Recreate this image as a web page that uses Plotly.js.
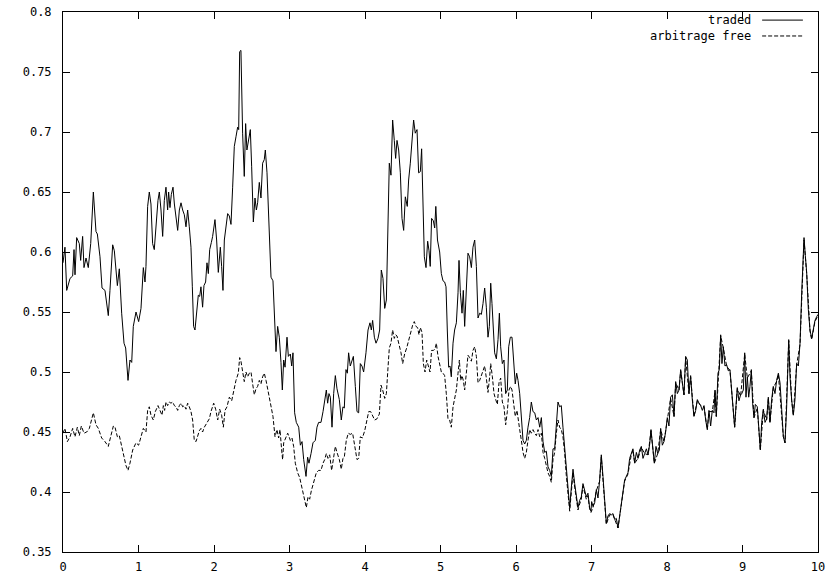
<!DOCTYPE html>
<html>
<head>
<meta charset="utf-8">
<script src="https://cdn.plot.ly/plotly-3.0.1.min.js"></script>
<style>html,body{margin:0;padding:0;background:#fff;}</style>
</head>
<body>
<div id="chart" style="width:829px;height:582px;"></div>
<script>
const seriesNames = ["traded", "arbitrage free"];

const tradedX = [0,0.026,0.049,0.093,0.128,0.146,0.159,0.181,0.216,0.234,0.26,0.278,0.305,0.335,0.367,0.402,0.437,0.455,0.49,0.517,0.556,0.6,0.622,0.658,0.68,0.702,0.72,0.746,0.777,0.808,0.83,0.861,0.887,0.91,0.931,0.967,
1.002,1.033,1.064,1.086,1.099,1.121,1.143,1.165,1.187,1.209,1.231,1.258,1.276,1.298,1.32,1.342,1.364,1.386,1.399,1.417,1.435,1.457,1.475,1.497,1.519,1.541,1.563,1.585,1.607,1.629,1.651,1.673,1.695,1.713,1.73,1.748,1.77,1.792,1.81,1.827,1.849,1.867,1.889,1.907,1.925,1.943,1.965,
1.982,2.013,2.035,2.057,2.084,2.101,2.119,2.137,2.159,2.181,2.203,2.225,2.247,2.269,2.291,2.313,2.327,2.34,2.357,2.379,2.401,2.419,2.436,2.454,2.481,2.499,2.521,2.543,2.561,2.578,2.6,2.622,2.644,2.666,2.68,2.702,2.733,2.755,2.781,2.799,2.821,2.843,2.865,2.887,2.905,2.923,2.941,2.967,2.985,
3.011,3.029,3.046,3.068,3.09,3.122,3.144,3.166,3.188,3.219,3.24,3.258,3.285,3.311,3.342,3.364,3.386,3.417,3.444,3.466,3.488,3.505,3.523,3.541,3.563,3.585,3.607,3.629,3.66,3.686,3.708,3.726,3.748,3.766,3.783,3.805,3.827,3.846,3.872,3.894,3.916,3.938,3.96,3.982,
4.013,4.04,4.066,4.084,4.101,4.124,4.146,4.172,4.194,4.216,4.238,4.261,4.283,4.305,4.322,4.344,4.366,4.388,4.406,4.424,4.446,4.468,4.49,4.512,4.534,4.56,4.578,4.6,4.622,4.644,4.666,4.689,4.71,4.733,4.75,4.768,4.786,4.808,4.83,4.848,4.864,4.882,4.905,4.923,4.938,4.96,
4.989,5.011,5.033,5.055,5.073,5.09,5.108,5.126,5.143,5.166,5.187,5.21,5.232,5.245,5.263,5.285,5.302,5.32,5.342,5.364,5.386,5.409,5.43,5.453,5.475,5.497,5.519,5.541,5.563,5.585,5.607,5.629,5.647,5.665,5.682,5.7,5.717,5.74,5.762,5.78,5.797,5.819,5.841,5.863,5.885,5.903,5.925,5.947,5.969,5.99,6.009,
6.027,6.049,6.071,6.093,6.115,6.137,6.159,6.181,6.203,6.225,6.248,6.27,6.292,6.314,6.336,6.358,6.38,6.402,6.424,6.446,6.468,6.49,6.512,6.534,6.556,6.578,6.6,6.622,6.644,6.666,6.689,6.711,6.733,6.755,6.777,6.799,6.821,6.843,6.865,6.887,6.909,6.931,6.953,6.975,6.993,
7.002,7.02,7.042,7.064,7.086,7.108,7.13,7.152,7.174,7.196,7.218,7.24,7.263,7.285,7.307,7.329,7.351,7.373,7.395,7.417,7.439,7.461,7.483,7.505,7.527,7.549,7.572,7.594,7.616,7.638,7.66,7.682,7.704,7.727,7.749,7.771,7.788,7.81,7.832,7.854,7.877,7.899,7.916,7.938,7.96,7.982,8.004,
8.026,8.048,8.071,8.093,8.115,8.137,8.159,8.181,8.203,8.225,8.247,8.269,8.291,8.313,8.335,8.357,8.38,8.402,8.424,8.446,8.468,8.49,8.512,8.534,8.556,8.578,8.6,8.622,8.636,8.653,8.675,8.693,8.711,8.728,8.746,8.768,8.79,8.812,8.834,8.857,8.879,8.896,8.914,8.931,8.953,8.975,
8.99,9.011,9.029,9.046,9.064,9.082,9.099,9.117,9.134,9.152,9.17,9.196,9.214,9.236,9.254,9.276,9.298,9.32,9.342,9.364,9.386,9.408,9.43,9.452,9.475,9.497,9.519,9.541,9.563,9.585,9.612,9.629,9.651,9.673,9.695,9.717,9.74,9.762,9.784,9.815,9.832,9.85,9.872,9.894,9.916,9.938,9.96,9.982,10.0];

const tradedY = [0.591,0.604,0.568,0.578,0.58,0.602,0.581,0.612,0.607,0.593,0.613,0.587,0.595,0.587,0.607,0.65,0.617,0.615,0.596,0.57,0.568,0.547,0.568,0.606,0.601,0.585,0.572,0.586,0.549,0.524,0.52,0.493,0.51,0.508,0.538,0.55,
0.542,0.553,0.587,0.575,0.588,0.638,0.65,0.64,0.607,0.602,0.621,0.643,0.65,0.635,0.613,0.643,0.654,0.635,0.65,0.637,0.648,0.654,0.64,0.629,0.618,0.635,0.641,0.635,0.631,0.621,0.635,0.621,0.604,0.571,0.538,0.535,0.549,0.564,0.563,0.571,0.554,0.572,0.575,0.591,0.582,0.602,0.608,
0.613,0.627,0.61,0.583,0.604,0.588,0.568,0.61,0.624,0.632,0.63,0.623,0.654,0.688,0.696,0.704,0.702,0.767,0.768,0.699,0.663,0.707,0.685,0.693,0.702,0.671,0.625,0.645,0.635,0.641,0.658,0.645,0.674,0.677,0.685,0.666,0.621,0.579,0.576,0.546,0.517,0.538,0.529,0.508,0.485,0.51,0.504,0.529,0.513,
0.515,0.505,0.516,0.466,0.458,0.454,0.439,0.442,0.427,0.413,0.429,0.424,0.432,0.441,0.443,0.454,0.458,0.458,0.467,0.475,0.485,0.474,0.482,0.479,0.454,0.482,0.497,0.486,0.477,0.46,0.471,0.47,0.502,0.499,0.516,0.505,0.509,0.513,0.488,0.467,0.466,0.507,0.505,0.5,
0.516,0.535,0.541,0.535,0.543,0.529,0.524,0.528,0.535,0.585,0.578,0.553,0.56,0.612,0.674,0.664,0.71,0.693,0.678,0.693,0.685,0.666,0.628,0.618,0.646,0.638,0.66,0.674,0.692,0.71,0.699,0.702,0.666,0.667,0.686,0.649,0.596,0.587,0.609,0.601,0.588,0.628,0.626,0.62,0.638,0.61,
0.6,0.582,0.576,0.575,0.571,0.535,0.504,0.505,0.496,0.524,0.535,0.541,0.566,0.593,0.566,0.549,0.568,0.538,0.566,0.599,0.596,0.587,0.604,0.61,0.588,0.545,0.549,0.548,0.557,0.57,0.554,0.529,0.538,0.574,0.557,0.529,0.516,0.511,0.527,0.549,0.521,0.507,0.51,0.482,0.485,0.521,0.529,0.529,0.507,0.49,0.499,
0.493,0.482,0.466,0.443,0.44,0.443,0.454,0.462,0.475,0.467,0.466,0.46,0.462,0.454,0.462,0.442,0.433,0.434,0.421,0.418,0.413,0.436,0.436,0.454,0.475,0.471,0.472,0.454,0.438,0.418,0.404,0.387,0.404,0.419,0.407,0.396,0.387,0.393,0.396,0.407,0.401,0.396,0.399,0.387,0.384,
0.392,0.388,0.391,0.402,0.395,0.41,0.431,0.413,0.391,0.374,0.38,0.382,0.381,0.382,0.377,0.378,0.37,0.38,0.391,0.399,0.41,0.413,0.416,0.428,0.432,0.436,0.424,0.433,0.428,0.435,0.438,0.428,0.432,0.436,0.431,0.44,0.452,0.435,0.424,0.438,0.432,0.435,0.453,0.439,0.442,0.45,0.462,
0.455,0.479,0.481,0.463,0.492,0.482,0.485,0.502,0.491,0.481,0.513,0.51,0.482,0.497,0.477,0.463,0.468,0.477,0.474,0.472,0.468,0.472,0.46,0.452,0.468,0.455,0.468,0.466,0.485,0.463,0.499,0.502,0.531,0.507,0.521,0.505,0.506,0.501,0.502,0.485,0.468,0.454,0.472,0.487,0.476,0.481,
0.482,0.485,0.516,0.479,0.496,0.479,0.488,0.502,0.474,0.462,0.473,0.471,0.455,0.435,0.458,0.469,0.458,0.461,0.479,0.458,0.477,0.488,0.482,0.493,0.499,0.491,0.469,0.446,0.441,0.471,0.527,0.496,0.477,0.464,0.477,0.507,0.505,0.524,0.566,0.612,0.597,0.583,0.552,0.535,0.528,0.535,0.543,0.546,0.548];

const arbX = [0,0.026,0.058,0.093,0.128,0.159,0.19,0.216,0.243,0.278,0.314,0.349,0.402,0.437,0.468,0.512,0.556,0.6,0.631,0.667,0.689,0.72,0.746,0.777,0.808,0.834,0.861,0.887,0.923,0.967,
1.002,1.033,1.064,1.099,1.121,1.143,1.165,1.196,1.223,1.258,1.285,1.311,1.329,1.346,1.364,1.386,1.408,1.43,1.453,1.475,1.497,1.519,1.541,1.563,1.585,1.607,1.629,1.651,1.673,1.695,1.717,1.739,1.762,1.784,1.805,1.827,1.849,1.872,1.894,1.916,1.938,1.96,
1.996,2.022,2.049,2.075,2.101,2.124,2.146,2.172,2.203,2.234,2.26,2.291,2.322,2.34,2.357,2.379,2.401,2.423,2.446,2.468,2.49,2.512,2.534,2.556,2.578,2.6,2.622,2.644,2.666,2.689,2.72,2.755,2.781,2.808,2.834,2.856,2.874,2.896,2.909,2.923,2.949,2.976,
3.0,3.011,3.033,3.055,3.077,3.108,3.135,3.166,3.197,3.223,3.245,3.267,3.289,3.32,3.355,3.386,3.417,3.444,3.466,3.488,3.51,3.532,3.558,3.585,3.607,3.629,3.66,3.686,3.708,3.726,3.752,3.779,3.805,3.836,3.863,3.894,3.916,3.938,3.965,3.996,
4.026,4.049,4.075,4.101,4.128,4.159,4.19,4.212,4.234,4.261,4.283,4.305,4.322,4.344,4.366,4.388,4.406,4.424,4.45,4.477,4.499,4.525,4.552,4.578,4.605,4.631,4.653,4.675,4.697,4.715,4.733,4.755,4.773,4.795,4.817,4.839,4.861,4.882,4.905,4.927,4.945,4.967,4.989,
5.011,5.033,5.055,5.077,5.099,5.121,5.143,5.166,5.187,5.21,5.232,5.25,5.267,5.285,5.302,5.32,5.342,5.364,5.386,5.409,5.43,5.453,5.475,5.497,5.519,5.541,5.563,5.585,5.607,5.629,5.651,5.665,5.687,5.709,5.731,5.753,5.775,5.797,5.819,5.841,5.863,5.885,5.907,5.929,5.947,5.969,5.99,6.013,
6.027,6.049,6.071,6.093,6.115,6.137,6.159,6.181,6.203,6.225,6.248,6.27,6.292,6.314,6.336,6.358,6.38,6.402,6.424,6.446,6.468,6.49,6.512,6.534,6.556,6.578,6.6,6.622,6.644,6.666,6.689,6.711,6.733,6.755,6.777,6.799,6.821,6.843,6.865,6.887,6.909,6.931,6.953,6.975,6.993,
7.02,7.064,7.108,7.13,7.152,7.196,7.24,7.285,7.351,7.395,7.439,7.483,7.527,7.549,7.572,7.616,7.66,7.704,7.749,7.788,7.832,7.877,7.916,7.96,8.004,8.048,8.093,8.115,8.159,8.181,8.225,8.247,8.291,8.313,8.357,8.402,8.446,8.49,8.534,8.556,8.6,8.636,8.653,8.711,8.746,8.79,8.834,8.896,8.931,8.975,
9.029,9.064,9.117,9.152,9.196,9.236,9.276,9.32,9.342,9.364,9.408,9.452,9.475,9.541,9.563,9.612,9.651,9.673,9.717,9.762,9.815,9.85,9.894,9.916,9.96,10.0];

const arbY = [0.449,0.453,0.442,0.446,0.453,0.446,0.454,0.447,0.455,0.449,0.45,0.453,0.466,0.456,0.453,0.445,0.442,0.438,0.446,0.455,0.454,0.446,0.447,0.438,0.429,0.422,0.418,0.424,0.435,0.441,
0.439,0.446,0.453,0.45,0.468,0.471,0.464,0.46,0.467,0.472,0.468,0.464,0.472,0.468,0.475,0.472,0.475,0.474,0.475,0.472,0.471,0.468,0.472,0.474,0.471,0.472,0.469,0.474,0.471,0.467,0.46,0.443,0.442,0.446,0.451,0.453,0.45,0.454,0.456,0.458,0.461,0.467,
0.474,0.469,0.46,0.469,0.464,0.454,0.468,0.471,0.479,0.476,0.485,0.493,0.499,0.512,0.509,0.499,0.492,0.5,0.496,0.499,0.5,0.49,0.481,0.486,0.488,0.493,0.49,0.496,0.499,0.493,0.482,0.471,0.463,0.446,0.452,0.445,0.452,0.435,0.427,0.441,0.445,0.449,
0.445,0.443,0.445,0.438,0.424,0.416,0.412,0.403,0.396,0.387,0.396,0.394,0.401,0.408,0.416,0.418,0.418,0.424,0.427,0.432,0.428,0.431,0.418,0.429,0.438,0.433,0.427,0.419,0.428,0.429,0.443,0.449,0.448,0.449,0.438,0.427,0.428,0.446,0.445,0.451,
0.46,0.467,0.467,0.464,0.46,0.461,0.465,0.489,0.485,0.478,0.482,0.504,0.52,0.524,0.535,0.528,0.531,0.53,0.524,0.516,0.507,0.515,0.52,0.527,0.534,0.539,0.542,0.538,0.537,0.531,0.537,0.533,0.507,0.5,0.51,0.505,0.5,0.518,0.518,0.519,0.524,0.513,0.506,
0.5,0.499,0.497,0.482,0.461,0.46,0.454,0.471,0.479,0.485,0.499,0.51,0.493,0.497,0.493,0.485,0.499,0.514,0.512,0.509,0.518,0.521,0.513,0.491,0.493,0.497,0.5,0.505,0.495,0.483,0.496,0.507,0.496,0.482,0.477,0.473,0.491,0.495,0.475,0.471,0.456,0.467,0.485,0.488,0.485,0.471,0.463,0.468,
0.46,0.452,0.443,0.433,0.428,0.433,0.443,0.452,0.449,0.452,0.449,0.447,0.452,0.446,0.449,0.433,0.428,0.421,0.416,0.413,0.408,0.427,0.433,0.449,0.46,0.454,0.452,0.446,0.433,0.414,0.4,0.384,0.4,0.416,0.404,0.393,0.385,0.39,0.394,0.405,0.399,0.394,0.397,0.386,0.383,
0.387,0.401,0.409,0.429,0.412,0.373,0.381,0.381,0.37,0.39,0.409,0.415,0.431,0.435,0.424,0.428,0.437,0.432,0.431,0.451,0.424,0.432,0.452,0.442,0.461,0.478,0.463,0.491,0.485,0.501,0.481,0.512,0.482,0.496,0.463,0.476,0.472,0.471,0.452,0.467,0.467,0.484,0.463,0.53,0.52,0.505,0.501,0.454,0.486,0.48,
0.515,0.495,0.501,0.462,0.47,0.435,0.468,0.46,0.478,0.458,0.487,0.492,0.498,0.446,0.441,0.526,0.476,0.464,0.506,0.523,0.61,0.582,0.534,0.527,0.542,0.547];

const monoFont = "DejaVu Sans Mono, Liberation Mono, monospace";

const traces = [
  {x: arbX, y: arbY, type: "scatter", mode: "lines", name: seriesNames[1],
   line: {color: "#000", width: 1, dash: "4px,2px"}, hoverinfo: "skip"},
  {x: tradedX, y: tradedY, type: "scatter", mode: "lines", name: seriesNames[0],
   line: {color: "#000", width: 1}, hoverinfo: "skip"}
];

const axisCommon = {
  showline: true, linecolor: "#000", linewidth: 1, mirror: "allticks",
  ticks: "inside", ticklen: 7, tickcolor: "#000", tickwidth: 1,
  showgrid: false, zeroline: false,
  tickfont: {family: monoFont, size: 12, color: "#000"}
};

const layout = {
  width: 829, height: 582,
  margin: {l: 63, r: 11, t: 12, b: 30, pad: 0},
  paper_bgcolor: "#fff", plot_bgcolor: "#fff",
  showlegend: false,
  xaxis: Object.assign({}, axisCommon, {range: [0, 10], dtick: 1, tick0: 0, ticklabelstandoff: 4}),
  yaxis: Object.assign({}, axisCommon, {range: [0.35, 0.8], dtick: 0.05, tick0: 0.35, ticklabelstandoff: 8}),
  annotations: [
    {xref: "paper", yref: "paper", x: 0.914, y: 0.985, xanchor: "right", yanchor: "middle",
     text: seriesNames[0], showarrow: false, font: {family: monoFont, size: 12, color: "#000"}},
    {xref: "paper", yref: "paper", x: 0.914, y: 0.9556, xanchor: "right", yanchor: "middle",
     text: seriesNames[1], showarrow: false, font: {family: monoFont, size: 12, color: "#000"}}
  ],
  shapes: [
    {type: "line", xref: "paper", yref: "paper", x0: 0.926, x1: 0.98, y0: 0.985, y1: 0.985,
     line: {color: "#000", width: 1}},
    {type: "line", xref: "paper", yref: "paper", x0: 0.926, x1: 0.98, y0: 0.9556, y1: 0.9556,
     line: {color: "#000", width: 1, dash: "4px,2px"}}
  ]
};

Plotly.newPlot("chart", traces, layout, {displayModeBar: false, staticPlot: true});
</script>
</body>
</html>
